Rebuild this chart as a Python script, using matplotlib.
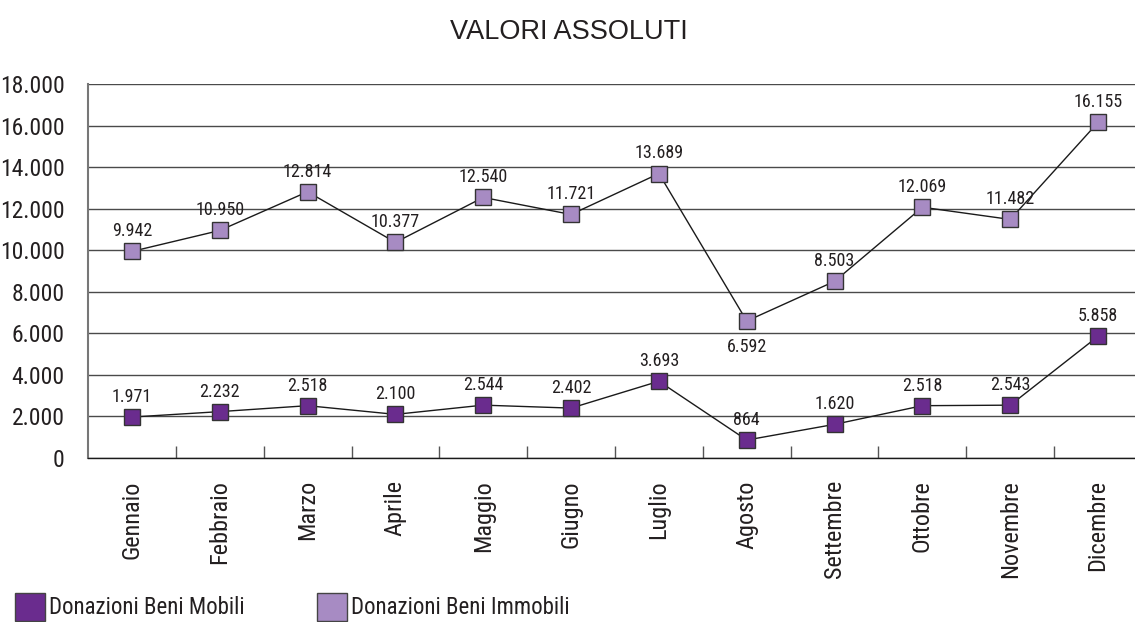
import matplotlib
matplotlib.use("Agg")
import matplotlib.pyplot as plt
from matplotlib.patches import Rectangle

months = ["Gennaio", "Febbraio", "Marzo", "Aprile", "Maggio", "Giugno",
          "Luglio", "Agosto", "Settembre", "Ottobre", "Novembre", "Dicembre"]
beni_immobili = [9942, 10950, 12814, 10377, 12540, 11721, 13689, 6592, 8503, 12069, 11482, 16155]
beni_mobili = [1971, 2232, 2518, 2100, 2544, 2402, 3693, 864, 1620, 2518, 2543, 5858]
y_ticks = list(range(0, 18001, 2000))

title = "VALORI ASSOLUTI"
label_mobili = "Donazioni Beni Mobili"
label_immobili = "Donazioni Beni Immobili"

col_mobili = "#6a2c8e"
col_immobili = "#a78bc3"
narrow = ["Roboto Condensed", "Liberation Sans Narrow", "Open Sans Condensed", "Roboto", "DejaVu Sans"]
stretch = "condensed"


def fmt(v):
    return f"{v:,}".replace(",", ".")


W, H = 1135, 622
fig = plt.figure(figsize=(W / 100, H / 100), dpi=100)
ax = fig.add_axes([88 / W, 1 - 458 / H, 1054 / W, 374 / H])

x = list(range(len(months)))
ax.plot(x, beni_immobili, color="#1a1a1a", lw=1.0, marker="s", ms=11,
        mfc=col_immobili, mec="#333333", mew=1.0, zorder=3, clip_on=False)
ax.plot(x, beni_mobili, color="#1a1a1a", lw=1.0, marker="s", ms=11,
        mfc=col_mobili, mec="#333333", mew=1.0, zorder=3, clip_on=False)

lab_kw = dict(textcoords="offset points", ha="center", fontsize=13,
              family=narrow, fontstretch=stretch, color="#231f20", zorder=4)
for xi, v in zip(x, beni_immobili):
    below = months[xi] == "Agosto"
    ax.annotate(fmt(v), (xi, v), xytext=(0, -12 if below else 8),
                va="top" if below else "bottom", **lab_kw)
for xi, v in zip(x, beni_mobili):
    ax.annotate(fmt(v), (xi, v), xytext=(0, 8), va="bottom", **lab_kw)

ax.set_xlim(-0.5, len(months) - 0.5)
ax.set_ylim(0, 18000)
ax.set_yticks(y_ticks)
ax.set_yticklabels([fmt(t) for t in y_ticks], family=narrow, fontstretch=stretch,
                   fontsize=17, color="#231f20")
ax.yaxis.grid(True, color="#4a4a4a", lw=1.0)
ax.set_axisbelow(True)
ax.tick_params(axis="y", length=0, pad=17)

ax.set_xticks([i + 0.5 for i in range(len(months) - 1)])
ax.set_xticklabels([])
ax.set_xticks(x, minor=True)
ax.set_xticklabels(months, minor=True, rotation=90, family=narrow,
                   fontstretch=stretch, fontsize=17.5, color="#231f20",
                   va="top", ha="center")
ax.tick_params(axis="x", which="major", direction="in", length=9,
               color="#555555", width=1.0)
ax.tick_params(axis="x", which="minor", length=0, pad=16)

for side in ("top", "right"):
    ax.spines[side].set_visible(False)
ax.spines["left"].set_color("#777777")
ax.spines["left"].set_linewidth(1.5)
ax.spines["bottom"].set_color("#1a1a1a")
ax.spines["bottom"].set_linewidth(1.0)

fig.text(569 / W, 1 - 32 / H, title, ha="center", va="center",
         fontsize=19.5, family="Liberation Sans", color="#231f20")

# legend drawn as figure-level swatches and labels
for x0, col, lab in [(15, col_mobili, label_mobili),
                     (317, col_immobili, label_immobili)]:
    fig.patches.append(Rectangle((x0 / W, 1 - 621 / H), 30 / W, 28 / H,
                                 transform=fig.transFigure, facecolor=col,
                                 edgecolor="#444444", lw=1.0))
    fig.text((x0 + 34) / W, 1 - 607 / H, lab, ha="left", va="center",
             fontsize=16.5, family=narrow, fontstretch=stretch, color="#231f20")

fig.savefig("out.png", dpi=100)
